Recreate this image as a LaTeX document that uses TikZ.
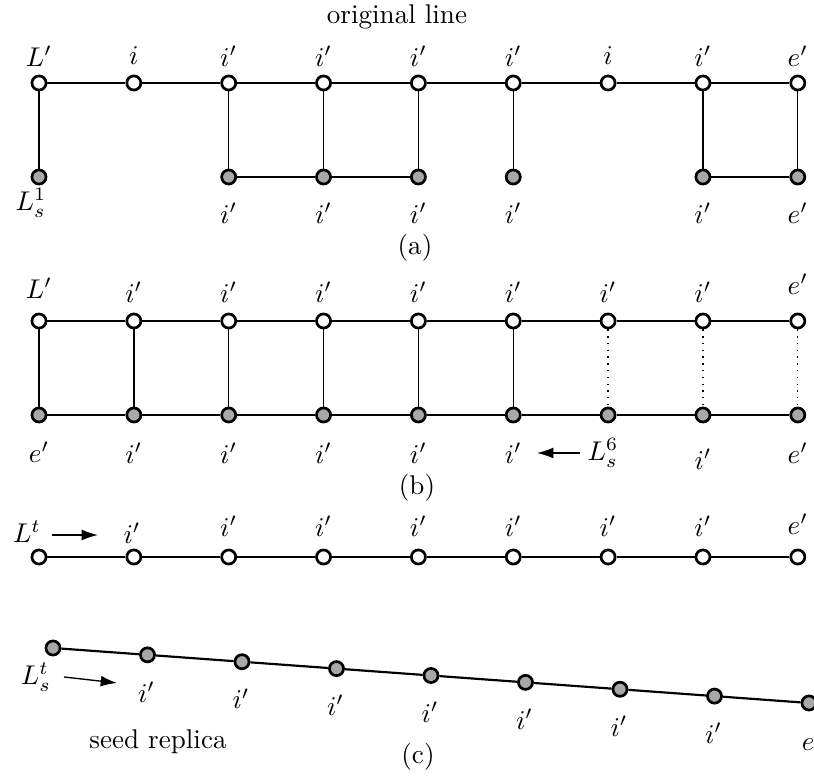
\documentclass[tikz,border=0pt]{standalone}
\usetikzlibrary{arrows.meta}
\begin{document}
\begin{tikzpicture}[x=0.369pt,y=-0.369pt,
  wn/.style={circle,draw,line width=1pt,fill=white,minimum size=5.2pt,inner sep=0pt},
  gn/.style={wn,fill=black!34},
  lab/.style={inner sep=0pt},
  thickline/.style={line width=0.8pt},
  thinline/.style={line width=0.5pt},
  dotline/.style={line width=0.5pt,dotted},
  arr/.style={line width=0.5pt,-{Latex[length=6pt,width=4pt]}}]
\useasboundingbox (0,0) rectangle (814,777);
% ---------- (a) ----------
\node[lab] (orig) at (397,17) {original line};
\foreach \k in {0,...,8} \node[wn] (a\k) at ({39+94.85*\k},83) {};
\foreach \k/\t in {0/L',1/i,2/i',3/i',4/i',5/i',6/i,7/i',8/e'}
  \node[lab] (al\k) at ({39+94.85*\k},56) {$\t$};
\foreach \k in {0,2,3,4,5,7,8} \node[gn] (ab\k) at ({39+94.85*\k},177) {};
\node[lab] (abl0) at (31,203) {$L_s^1$};
\foreach \k/\t in {2/i',3/i',4/i',5/i',7/i',8/e'}
  \node[lab] (abl\k) at ({39+94.85*\k},213) {$\t$};
\draw[thickline] (a0) -- (a1) -- (a2) -- (a3) -- (a4) -- (a5) -- (a6) -- (a7) -- (a8);
\foreach \k in {0,2,3,4,5,7,8} \draw[thinline] (a\k) -- (ab\k);
\draw[thinline] (ab2) -- (ab3) -- (ab4);
\draw[thinline] (ab7) -- (ab8);
\node[lab] (capa) at (415,248) {(a)};
% ---------- (b) ----------
\foreach \k in {0,...,8} {
  \node[wn] (bt\k) at ({39+94.85*\k},321) {};
  \node[gn] (bb\k) at ({39+94.85*\k},415) {};
}
\node[lab] (btl0) at (39,288) {$L'$};
\foreach \k in {1,...,7} \node[lab] (btl\k) at ({39+94.85*\k},292) {$i'$};
\node[lab] (btl8) at (797.8,284) {$e'$};
\node[lab] (bbl0) at (39,452) {$e'$};
\foreach \k in {1,...,5} \node[lab] (bbl\k) at ({39+94.85*\k},453) {$i'$};
\node[lab] (bbl7) at (703,459) {$i'$};
\node[lab] (bbl8) at (797.8,453) {$e'$};
\node[lab] (ls6) at (603,453) {$L_s^6$};
\coordinate (b6a) at (580,453);
\coordinate (b6b) at (537,453);
\draw[arr] (b6a) -- (b6b);
\draw[thinline] (bt0) -- (bt1) -- (bt2) -- (bt3) -- (bt4) -- (bt5) -- (bt6) -- (bt7) -- (bt8);
\draw[thinline] (bb0) -- (bb1) -- (bb2) -- (bb3) -- (bb4) -- (bb5) -- (bb6) -- (bb7) -- (bb8);
\foreach \k in {0,...,5} \draw[thinline] (bt\k) -- (bb\k);
\foreach \k in {6,7,8} \draw[dotline] (bt\k) -- (bb\k);
\node[lab] (capb) at (417,488) {(b)};
% ---------- (c) ----------
\foreach \k in {0,...,8} \node[wn] (ct\k) at ({39+94.85*\k},557) {};
\node[lab] (ltl) at (27,532) {$L^t$};
\coordinate (c1a) at (52,535);
\coordinate (c1b) at (98,535);
\draw[arr] (c1a) -- (c1b);
\node[lab] (ctl1) at (132,533) {$i'$};
\foreach \k in {2,...,7} \node[lab] (ctl\k) at ({39+94.85*\k},526) {$i'$};
\node[lab] (ctl8) at (797.8,524) {$e'$};
\draw[thinline] (ct0) -- (ct1) -- (ct2) -- (ct3) -- (ct4) -- (ct5) -- (ct6) -- (ct7) -- (ct8);
\foreach \k in {0,...,8} \node[gn] (cb\k) at ({53+94.5*\k},{648+6.875*\k}) {};
\foreach \k in {1,...,7} \node[lab] (cbl\k) at ({52+94.5*\k},{685+6.875*\k}) {$i'$};
\node[lab] (cbl8) at (812,740) {$e'$};
\node[lab] (lst) at (36,677) {$L_s^t$};
\coordinate (c2a) at (64,677);
\coordinate (c2b) at (117,683);
\draw[arr] (c2a) -- (c2b);
\draw[thickline] (cb0) -- (cb1) -- (cb2) -- (cb3) -- (cb4) -- (cb5) -- (cb6) -- (cb7) -- (cb8);
\node[lab] (seed) at (158,742) {seed replica};
\node[lab] (capc) at (418,757) {(c)};
\end{tikzpicture}
\end{document}
